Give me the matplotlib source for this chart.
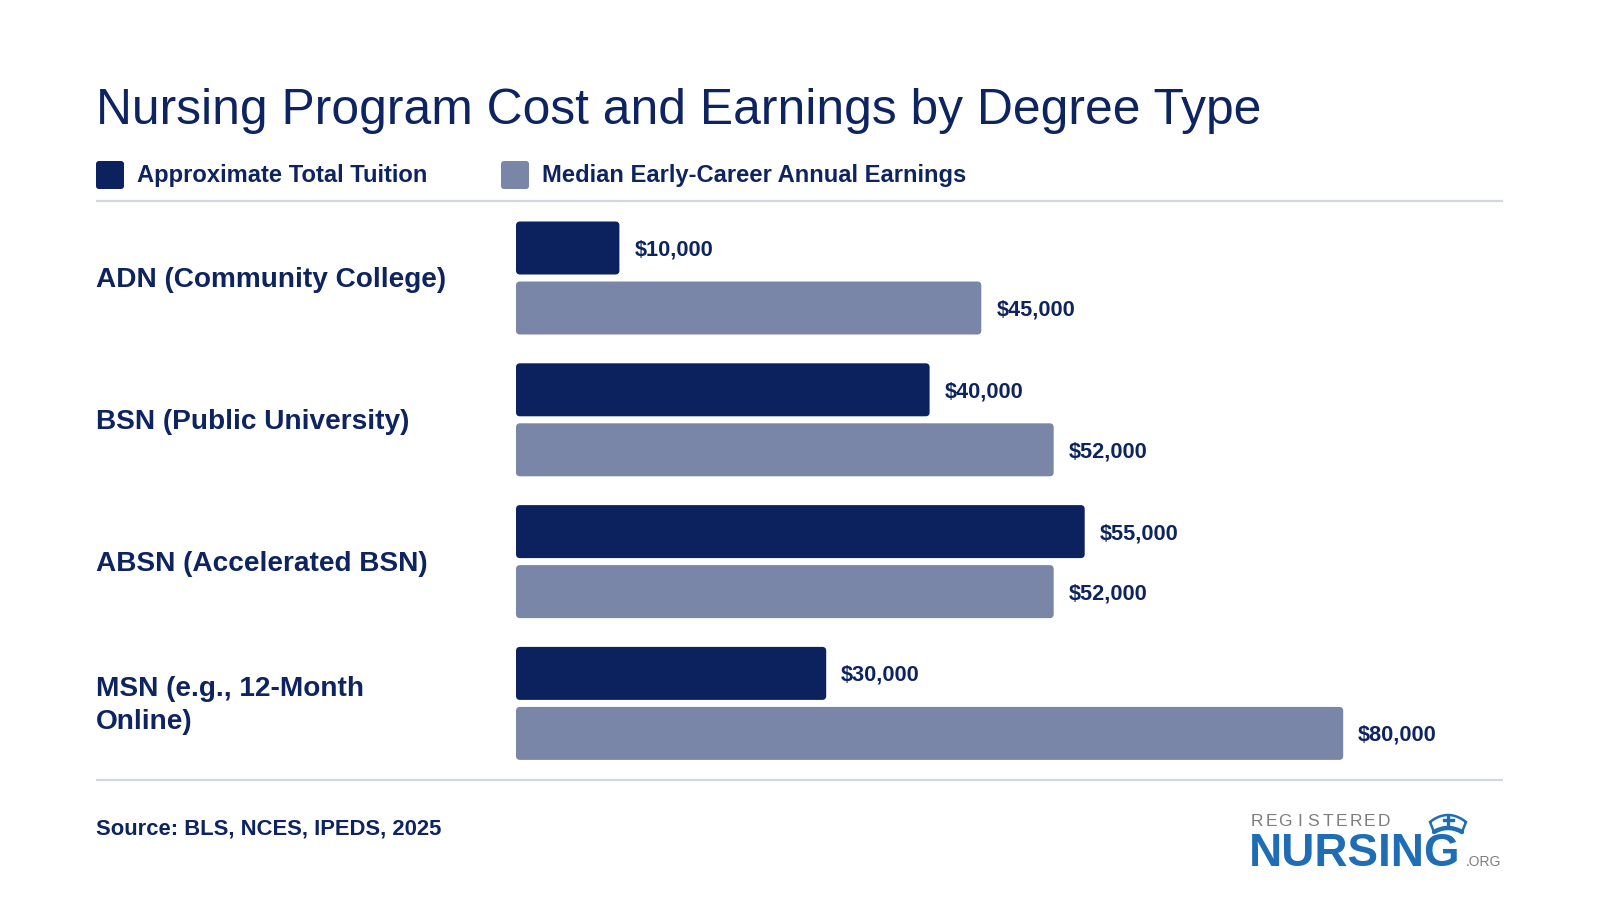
import matplotlib
matplotlib.use("Agg")
import matplotlib.pyplot as plt
from matplotlib.patches import FancyBboxPatch, Polygon
from matplotlib import transforms
import numpy as np

# ---- data ----
categories = ["ADN (Community College)", "BSN (Public University)",
              "ABSN (Accelerated BSN)", "MSN (e.g., 12-Month\nOnline)"]
tuition = [10000, 40000, 55000, 30000]
earnings = [45000, 52000, 52000, 80000]
series_names = ["Approximate Total Tuition", "Median Early-Career Annual Earnings"]
title = "Nursing Program Cost and Earnings by Degree Type"
source = "Source: BLS, NCES, IPEDS, 2025"

NAVY = "#0c225f"
TEXT = "#0d2461"
GREYBLUE = "#7a86a7"
LINE = "#d3d7e0"
LOGO_BLUE = "#1f6db5"
LOGO_GREY = "#7d7d7d"

plt.rcParams['font.family'] = ['Liberation Sans', 'DejaVu Sans']

W, H = 1600, 900
fig = plt.figure(figsize=(16, 9), dpi=100)
fig.patch.set_facecolor("white")

def fx(x):
    return x / W

def fy(y):
    return 1 - y / H

# background pixel-space axes for lines / logo shapes
bg = fig.add_axes([0, 0, 1, 1], zorder=0)
bg.set_xlim(0, W)
bg.set_ylim(H, 0)
bg.axis("off")

# title
fig.text(fx(96), fy(124), title, fontsize=35.8, color=TEXT, ha="left", va="baseline")

# legend
leg_x = [96, 501]
for i, (name, col) in enumerate(zip(series_names, [NAVY, GREYBLUE])):
    bg.add_patch(FancyBboxPatch((leg_x[i], 161), 28, 28,
                                boxstyle="round,pad=0,rounding_size=3",
                                facecolor=col, edgecolor="none"))
    fig.text(fx(leg_x[i] + 41), fy(182), name, fontsize=17.1, fontweight="bold",
             color=TEXT, ha="left", va="baseline")

# separator lines
bg.plot([96, 1503], [201, 201], color=LINE, lw=1.6, solid_capstyle="butt")
bg.plot([96, 1503], [780, 780], color=LINE, lw=1.6, solid_capstyle="butt")

# ---- bar axes ----
px_per_dollar = 0.01034
ax_left_px, ax_right_px = 516, 1503
ax_top_px, ax_bot_px = 208, 770
pitch = 141.8
ax = fig.add_axes([fx(ax_left_px), fy(ax_bot_px),
                   (ax_right_px - ax_left_px) / W, (ax_bot_px - ax_top_px) / H],
                  zorder=2)
ax.set_xlim(0, (ax_right_px - ax_left_px) / px_per_dollar)
top = -(278 - ax_top_px) / pitch
ax.set_ylim(top + (ax_bot_px - ax_top_px) / pitch, top)
ax.axis("off")

y = np.arange(len(categories))
bar_h = 53 / pitch
off = 30 / pitch
b1 = ax.barh(y - off, tuition, height=bar_h, color=NAVY)
b2 = ax.barh(y + off, earnings, height=bar_h, color=GREYBLUE)

r_x = 4 / px_per_dollar
r_y = 4 / pitch
for bars in (b1, b2):
    for bar in bars:
        x0, y0 = bar.get_x(), bar.get_y()
        w, h = bar.get_width(), bar.get_height()
        bar.set_visible(False)
        p = FancyBboxPatch((x0, y0), w, h,
                           boxstyle=f"round,pad=0,rounding_size={r_x}",
                           mutation_aspect=r_y / r_x,
                           facecolor=bar.get_facecolor(), edgecolor="none")
        ax.add_patch(p)
        ax.annotate(f"${w:,.0f}", xy=(x0 + w, y0 + h / 2), xytext=(10.8, -1.5),
                    textcoords="offset points", ha="left", va="center",
                    fontsize=15.7, fontweight="bold", color=TEXT)

# category labels
trans = transforms.blended_transform_factory(fig.transFigure, ax.transData)
trans = trans + transforms.ScaledTranslation(0, -2 / 100, fig.dpi_scale_trans)
for yi, cat in zip(y, categories):
    fig.text(fx(96), yi, cat, transform=trans, ha="left", va="center",
             fontsize=20.2, fontweight="bold", color=TEXT, linespacing=1.38)

# source
fig.text(fx(96), fy(834), source, fontsize=15.8, fontweight="bold",
         color=TEXT, ha="left", va="baseline")

# ---- logo ----
letters = "REGISTERED"
lx0, lx1 = 1250, 1391
step = (lx1 - lx0) / len(letters)
for k, ch in enumerate(letters):
    fig.text(fx(lx0 + step * (k + 0.5)), fy(826), ch, fontsize=12.5,
             color=LOGO_GREY, ha="center", va="baseline")
fig.text(fx(1249), fy(866), "NURSING", fontsize=33, fontweight="bold",
         color=LOGO_BLUE, ha="left", va="baseline")
fig.text(fx(1466), fy(866), ".ORG", fontsize=10, color=LOGO_GREY,
         ha="left", va="baseline")
# nurse cap icon (pixel space)
cx = np.linspace(1430, 1466, 30)
cy = 822 - 7 * (1 - ((cx - 1448) / 18) ** 2)
bx = np.linspace(1462, 1434, 30)
by = 832 - 4 * (1 - ((bx - 1448) / 14) ** 2)
cap_pts = np.column_stack([np.concatenate([cx, bx]), np.concatenate([cy, by])])
bg.add_patch(Polygon(cap_pts, closed=True, facecolor="white",
                     edgecolor=LOGO_BLUE, lw=1.8, zorder=3))
bg.plot(bx, by, color=LOGO_BLUE, lw=3.2, zorder=4, solid_capstyle="round")
bg.plot([1448, 1448], [815.5, 825], color=LOGO_BLUE, lw=2.4, zorder=4)
bg.plot([1443.5, 1452.5], [820, 820], color=LOGO_BLUE, lw=2.4, zorder=4)

fig.savefig("out.png", dpi=100, facecolor="white")
